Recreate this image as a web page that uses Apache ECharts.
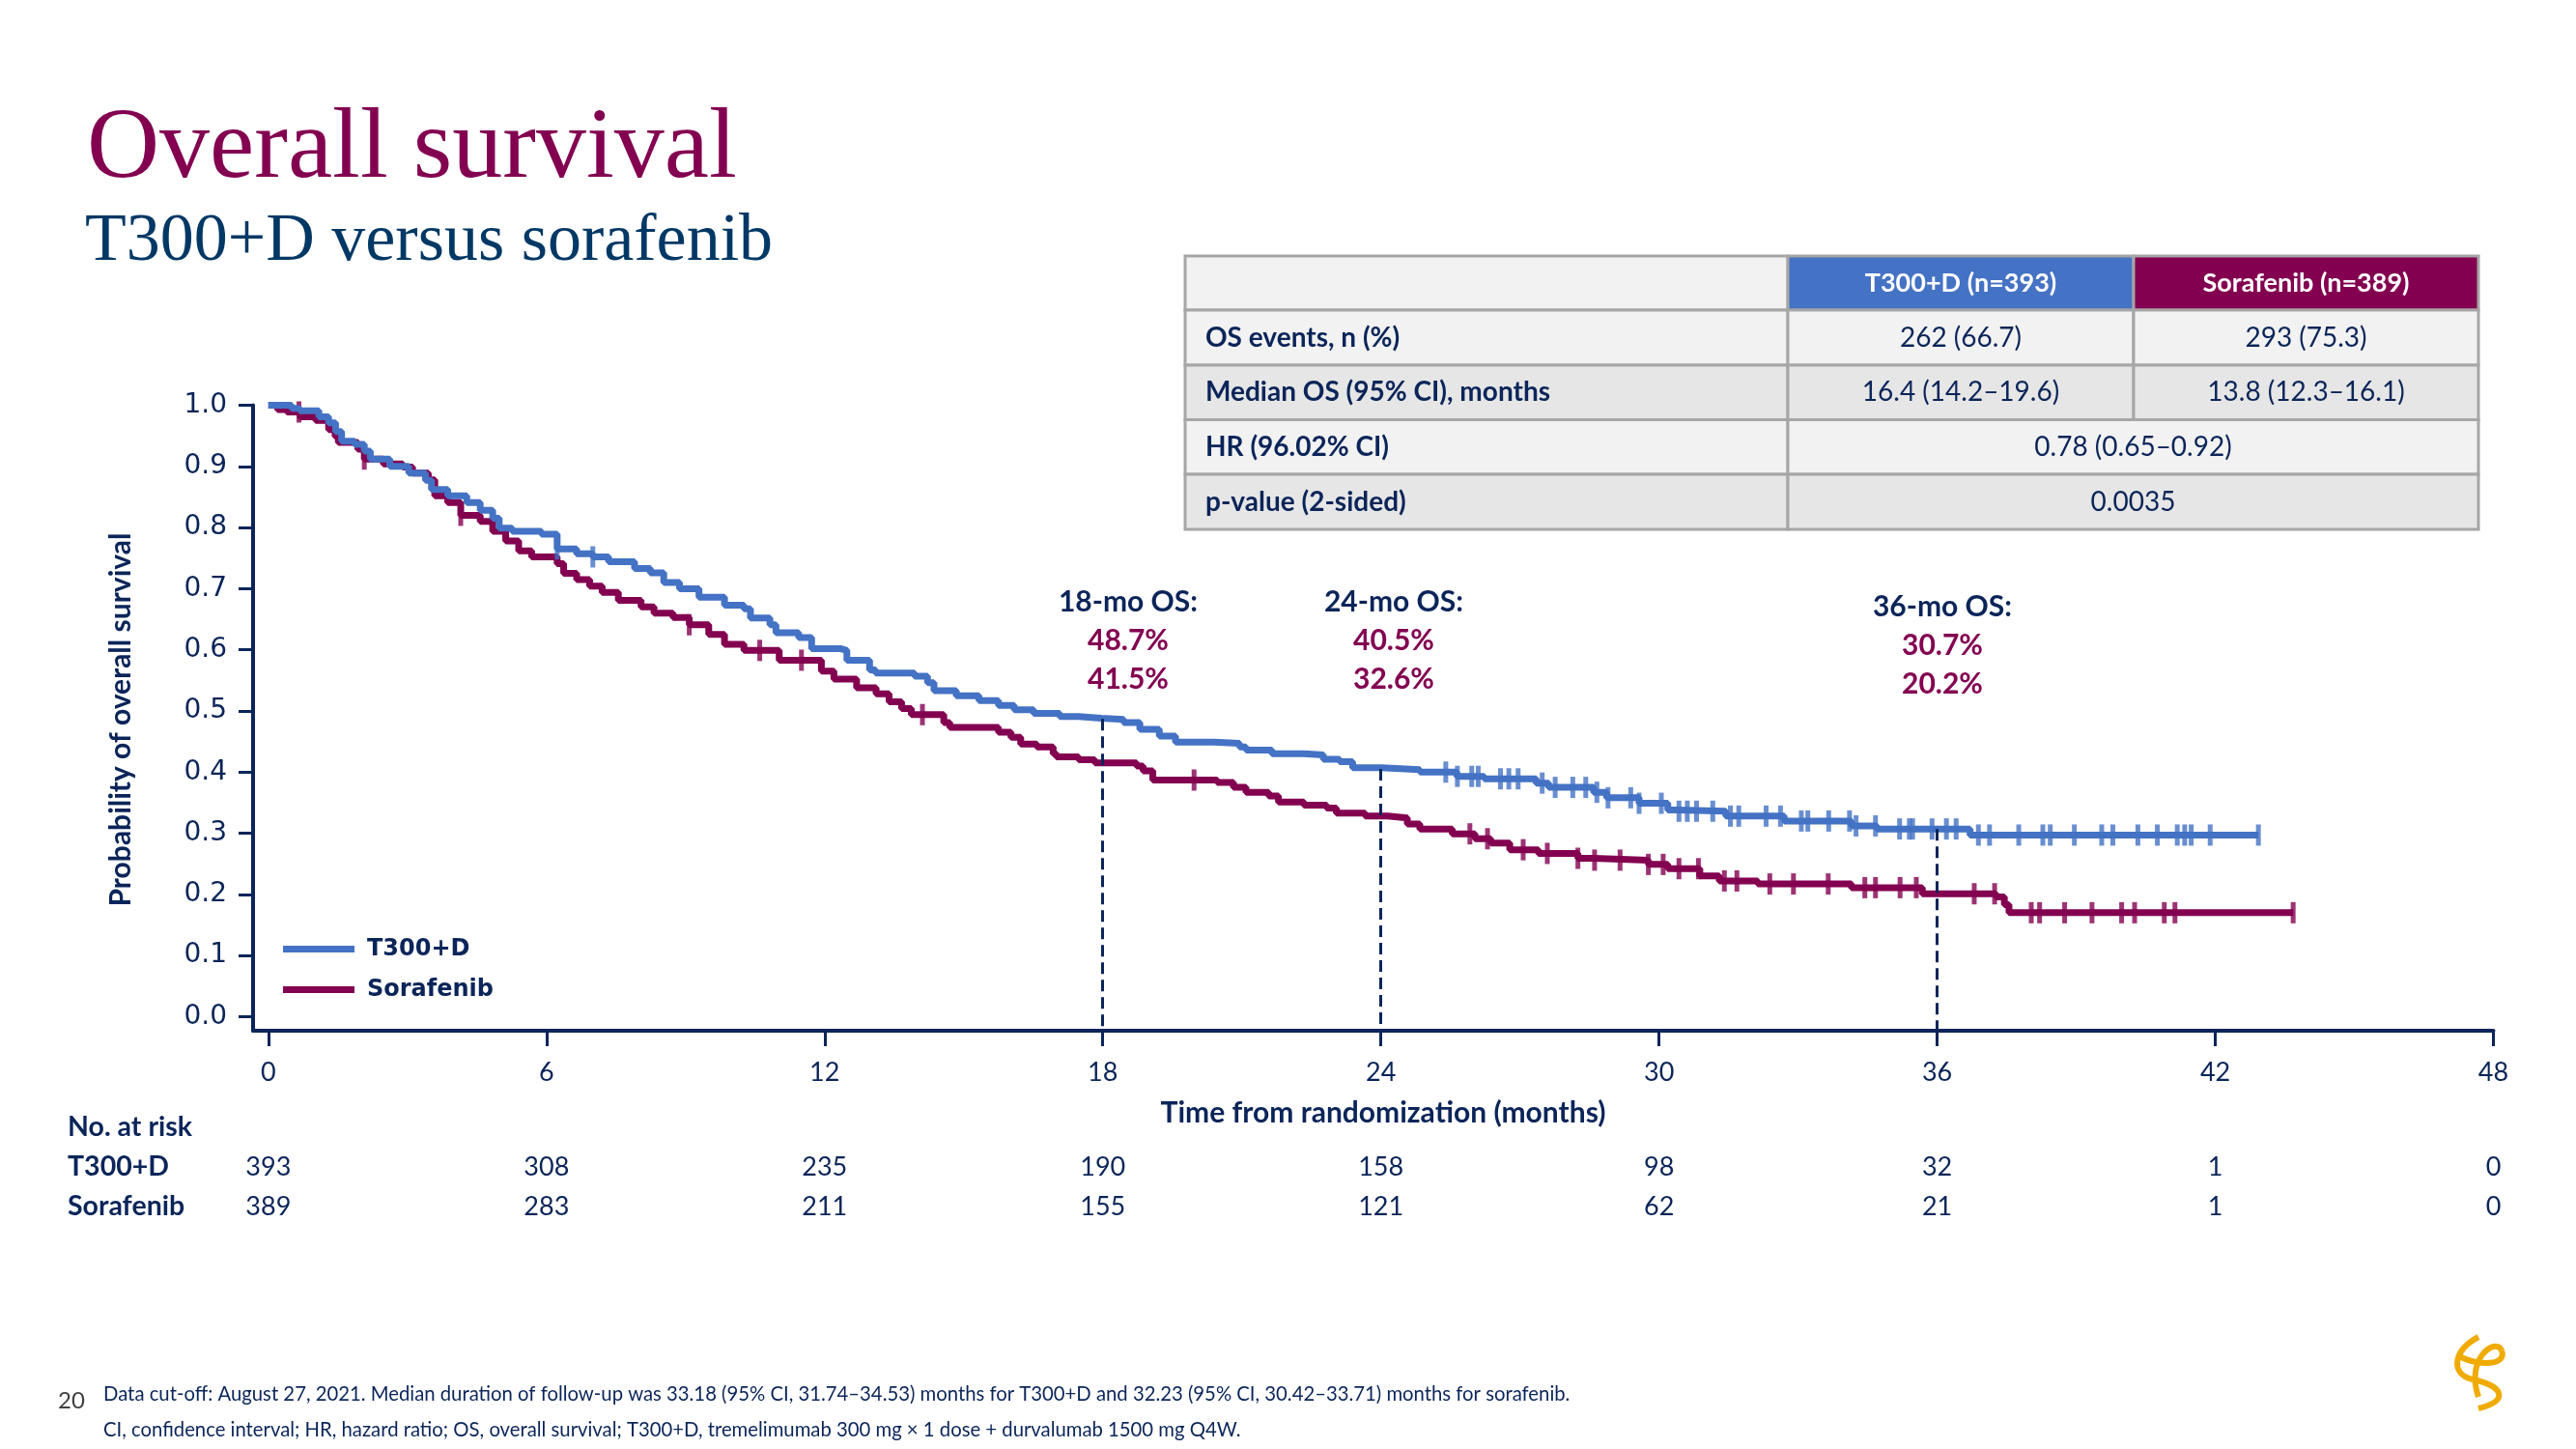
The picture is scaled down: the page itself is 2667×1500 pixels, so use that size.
<!DOCTYPE html>
<html><head><meta charset="utf-8">
<script src="https://cdn.jsdelivr.net/npm/echarts@6/dist/echarts.min.js"></script>
<style>html,body{margin:0;padding:0;background:#fff;}#c{width:2667px;height:1500px;}</style>
</head><body><div id="c"></div>
<script>
// ---------- data ----------
const t300dSteps = [
 [0,1.0],[0.5,0.995],[0.68,0.991],[1.09,0.981],[1.3,0.971],[1.45,0.957],[1.58,0.941],[1.86,0.936],
 [2.07,0.925],[2.2,0.912],[2.62,0.9],[3.03,0.889],[3.39,0.877],[3.52,0.862],[3.87,0.852],[4.28,0.841],
 [4.57,0.828],[4.84,0.815],[4.98,0.799],[5.26,0.794],[5.89,0.789],[6.23,0.765],[6.65,0.757],[7.0,0.752],
 [7.34,0.744],[7.9,0.733],[8.24,0.726],[8.53,0.71],[8.87,0.7],[9.29,0.686],[9.84,0.673],[10.26,0.667],
 [10.4,0.652],[10.82,0.641],[10.95,0.628],[11.44,0.62],[11.72,0.602],[12.34,0.599],[12.48,0.583],
 [12.97,0.567],[13.1,0.562],[13.94,0.557],[14.22,0.546],[14.36,0.533],[14.84,0.525],[15.33,0.517],
 [15.75,0.509],[16.09,0.502],[16.51,0.496],[17.07,0.491],[17.48,0.488],[17.97,0.486],[18.45,0.481],
 [18.8,0.47],[19.22,0.459],[19.57,0.449],[20.4,0.447],[20.95,0.441],[21.09,0.436],[21.65,0.43],
 [22.34,0.428],[22.76,0.421],[23.11,0.417],[23.39,0.407],[24.01,0.404],[24.84,0.4],[25.64,0.393],
 [26.23,0.389],[27.35,0.382],[27.62,0.375],[28.59,0.367],[28.87,0.358],[29.57,0.349],[30.19,0.338],
 [30.4,0.336],[31.44,0.328],[32.7,0.32],[34.15,0.312],[34.7,0.307],[36.71,0.297],[42.93,0.297]
];
const sorafSteps = [
 [0,1.0],[0.2,0.993],[0.4,0.989],[0.68,0.981],[1.02,0.975],[1.3,0.96],[1.44,0.949],[1.51,0.939],
 [1.93,0.928],[2.07,0.912],[2.48,0.904],[2.9,0.899],[3.11,0.889],[3.45,0.878],[3.59,0.852],[3.87,0.841],
 [4.15,0.82],[4.57,0.81],[4.84,0.794],[5.12,0.778],[5.4,0.762],[5.68,0.752],[6.23,0.741],[6.37,0.725],
 [6.65,0.715],[6.93,0.704],[7.2,0.694],[7.55,0.681],[8.04,0.67],[8.32,0.66],[8.73,0.653],[9.08,0.641],
 [9.5,0.625],[9.84,0.609],[10.26,0.599],[11.02,0.583],[11.93,0.565],[12.2,0.552],[12.69,0.538],
 [13.11,0.528],[13.39,0.515],[13.66,0.504],[13.87,0.494],[14.57,0.481],[14.7,0.473],[15.75,0.465],
 [16.02,0.457],[16.23,0.446],[16.58,0.441],[16.93,0.43],[17.0,0.425],[17.48,0.42],[17.83,0.415],
 [18.73,0.41],[18.87,0.402],[19.08,0.387],[20.47,0.383],[20.82,0.375],[21.09,0.367],[21.58,0.361],
 [21.79,0.351],[22.34,0.346],[22.83,0.341],[23.04,0.333],[23.66,0.328],[24.15,0.325],[24.57,0.315],
 [24.84,0.307],[25.54,0.299],[26.03,0.291],[26.37,0.284],[26.78,0.273],[27.4,0.267],[28.25,0.259],
 [28.59,0.256],[29.77,0.249],[30.19,0.242],[30.88,0.23],[31.3,0.222],[32.13,0.217],[34.15,0.211],
 [35.68,0.201],[37.27,0.196],[37.45,0.183],[37.55,0.17],[43.68,0.17]
];
const t300dCensor = [6.23,7.0,25.4,25.65,25.96,26.1,26.58,26.76,26.96,27.48,27.76,28.14,28.42,28.66,28.9,
 29.39,29.57,30.05,30.43,30.61,30.81,31.16,31.54,31.72,32.31,32.62,33.07,33.21,33.66,34.11,34.25,34.67,
 35.19,35.4,35.47,35.89,36.2,36.41,36.89,37.13,37.76,38.28,38.44,38.96,39.55,39.79,40.33,40.75,41.18,
 41.34,41.48,41.89,42.93];
const sorafCensor = [0.66,2.07,4.15,9.08,10.6,11.5,14.11,19.97,25.92,26.3,27.07,27.59,28.25,28.61,29.16,
 29.77,30.09,30.43,30.85,31.41,31.68,32.39,32.9,33.65,34.44,34.67,35.2,35.55,36.8,37.24,38.03,38.21,
 38.75,39.34,39.98,40.26,40.9,41.13,43.68];
const xTicks = [0,6,12,18,24,30,36,42,48];
const yTicks = [0,0.1,0.2,0.3,0.4,0.5,0.6,0.7,0.8,0.9,1.0];
const riskT300D = [393,308,235,190,158,98,32,1,0];
const riskSoraf = [389,283,211,155,121,62,21,1,0];
const landmarkMonths = [18,24,36];
const landmarkT300D = [48.7,40.5,30.7];
const landmarkSoraf = [41.5,32.6,20.2];
const tableHeader = ['', 'T300+D (n=393)', 'Sorafenib (n=389)'];
const tableRows = [
 ['OS events, n (%)','262 (66.7)','293 (75.3)'],
 ['Median OS (95% CI), months','16.4 (14.2\u201319.6)','13.8 (12.3\u201316.1)'],
 ['HR (96.02% CI)','0.78 (0.65\u20130.92)'],
 ['p-value (2-sided)','0.0035']
];

// ---------- style ----------
const NAVY = '#0B2559';
const BLUE = '#4472C4';
const MUL = '#830051';
const XMIN = -0.33, YMIN = -0.023;
const SANS = 'Lato';

function survAt(steps, t){ let v = steps[0][1]; for (const p of steps){ if (p[0] <= t + 1e-9) v = p[1]; else break; } return v; }

const chart = echarts.init(document.getElementById('c'), null, {renderer:'canvas'});

function txt(x,y,text,font,fill,align,valign,rot){
  const e = {type:'text', x:x, y:y, silent:true, style:{text:text, font:font, fill:fill,
    align:align||'left', textAlign:align||'left', verticalAlign:valign||'middle', textVerticalAlign:valign||'middle'}};
  if (rot) e.rotation = rot;
  return e;
}

const graphics = [];
// titles
graphics.push(txt(90,156,'Overall survival','104px "Liberation Serif"',MUL));
graphics.push(txt(88,251,'T300+D versus sorafenib','70px "Liberation Serif"','#003865'));

// table
const colX = [1227,1851,2209,2566];
const rowY = [265,321,378,434.5,491,548];
const rowFill = ['#F2F2F2','#E6E6E6','#F2F2F2','#E6E6E6'];
const BORDER = '#A6A6A6';
function cell(x0,x1,y0,y1,fill){ return {type:'rect', silent:true, shape:{x:x0,y:y0,width:x1-x0,height:y1-y0}, style:{fill:fill, stroke:BORDER, lineWidth:3}}; }
graphics.push(cell(colX[0],colX[1],rowY[0],rowY[1],'#F2F2F2'));
graphics.push(cell(colX[1],colX[2],rowY[0],rowY[1],BLUE));
graphics.push(cell(colX[2],colX[3],rowY[0],rowY[1],MUL));
graphics.push(txt((colX[1]+colX[2])/2,(rowY[0]+rowY[1])/2,tableHeader[1],'bold 27px '+SANS,'#fff','center'));
graphics.push(txt((colX[2]+colX[3])/2,(rowY[0]+rowY[1])/2,tableHeader[2],'bold 27px '+SANS,'#fff','center'));
tableRows.forEach((r,i)=>{
  const y0 = rowY[i+1], y1 = rowY[i+2], cy = (y0+y1)/2;
  graphics.push(cell(colX[0],colX[1],y0,y1,rowFill[i]));
  if (r.length === 3){
    graphics.push(cell(colX[1],colX[2],y0,y1,rowFill[i]));
    graphics.push(cell(colX[2],colX[3],y0,y1,rowFill[i]));
    graphics.push(txt((colX[1]+colX[2])/2,cy,r[1],'28px '+SANS,NAVY,'center'));
    graphics.push(txt((colX[2]+colX[3])/2,cy,r[2],'28px '+SANS,NAVY,'center'));
  } else {
    graphics.push(cell(colX[1],colX[3],y0,y1,rowFill[i]));
    graphics.push(txt((colX[1]+colX[3])/2,cy,r[1],'28px '+SANS,NAVY,'center'));
  }
  graphics.push(txt(colX[0]+21,cy,r[0],'bold 28px '+SANS,NAVY,'left'));
});

// landmark annotations
const annX = [1168,1443,2011];
const annY = [623,623,628];
landmarkMonths.forEach((m,i)=>{
  graphics.push(txt(annX[i],annY[i],m+'-mo OS:','bold 30px '+SANS,NAVY,'center'));
  graphics.push(txt(annX[i],annY[i]+40,landmarkT300D[i].toFixed(1)+'%','bold 30px '+SANS,MUL,'center'));
  graphics.push(txt(annX[i],annY[i]+80,landmarkSoraf[i].toFixed(1)+'%','bold 30px '+SANS,MUL,'center'));
});

// axis titles
graphics.push(txt(125,745,'Probability of overall survival','bold 30px '+SANS,NAVY,'center','middle',Math.PI/2));
graphics.push(txt(1432,1152,'Time from randomization (months)','bold 30px '+SANS,NAVY,'center'));
// risk table labels
graphics.push(txt(70,1167,'No. at risk','bold 28.5px '+SANS,NAVY,'left'));
graphics.push(txt(70,1208,'T300+D','bold 28.5px '+SANS,NAVY,'left'));
graphics.push(txt(70,1249,'Sorafenib','bold 28.5px '+SANS,NAVY,'left'));
// footer
graphics.push(txt(60,1450,'20','24px '+SANS,'#404040','left'));
graphics.push(txt(107,1443,'Data cut-off: August 27, 2021. Median duration of follow-up was 33.18 (95% CI, 31.74\u201334.53) months for T300+D and 32.23 (95% CI, 30.42\u201333.71) months for sorafenib.','20.3px '+SANS,NAVY,'left'));
graphics.push(txt(107,1480,'CI, confidence interval; HR, hazard ratio; OS, overall survival; T300+D, tremelimumab 300 mg \u00d7 1 dose + durvalumab 1500 mg Q4W.','20.3px '+SANS,NAVY,'left'));
// logo (approximate)
const GOLD = '#F0AB00';
function bez(x1,y1,c1x,c1y,c2x,c2y,x2,y2){ return {type:'bezierCurve', silent:true, shape:{x1:x1,y1:y1,cpx1:c1x,cpy1:c1y,cpx2:c2x,cpy2:c2y,x2:x2,y2:y2}, style:{fill:null, stroke:GOLD, lineWidth:6}}; }
graphics.push(bez(2566,1384, 2540,1398, 2536,1422, 2560,1428));
graphics.push(bez(2560,1428, 2590,1434, 2600,1450, 2566,1458));
graphics.push(bez(2546,1404, 2566,1414, 2596,1414, 2590,1398));
graphics.push(bez(2590,1398, 2584,1384, 2552,1406, 2566,1446));

const axisText = {fontFamily:SANS, fontSize:27, color:NAVY};

const option = {
  animation:false,
  backgroundColor:'#ffffff',
  grid:{left:262, right:85.5, top:419.5, bottom:433, containLabel:false},
  legend:{
    data:['T300+D','Sorafenib'], orient:'vertical', left:288, top:964, icon:'rect',
    itemWidth:74, itemHeight:7, itemGap:15, selectedMode:false,
    textStyle:{fontFamily:'DejaVu Sans', fontWeight:'bold', fontSize:24, color:NAVY, lineHeight:27, padding:[0,0,0,8]}
  },
  xAxis:[
    {type:'value', min:XMIN, max:48,
     axisLine:{show:true, onZero:false, lineStyle:{color:NAVY, width:4}},
     axisTick:{show:true, customValues:xTicks, length:16, lineStyle:{color:NAVY, width:3}},
     axisLabel:{customValues:xTicks, margin:30, ...axisText},
     splitLine:{show:false}},
    {type:'value', min:XMIN, max:48, position:'bottom', offset:141,
     axisLine:{show:false, onZero:false}, axisTick:{show:false}, splitLine:{show:false},
     axisLabel:{customValues:xTicks, margin:0, verticalAlign:'middle', ...axisText,
       formatter:(v)=>{const i = xTicks.indexOf(v); return i<0?'':String(riskT300D[i]);}}},
    {type:'value', min:XMIN, max:48, position:'bottom', offset:182,
     axisLine:{show:false, onZero:false}, axisTick:{show:false}, splitLine:{show:false},
     axisLabel:{customValues:xTicks, margin:0, verticalAlign:'middle', ...axisText,
       formatter:(v)=>{const i = xTicks.indexOf(v); return i<0?'':String(riskSoraf[i]);}}}
  ],
  yAxis:{type:'value', min:YMIN, max:1,
    axisLine:{show:true, onZero:false, lineStyle:{color:NAVY, width:4}},
    axisTick:{show:true, customValues:yTicks, length:15, lineStyle:{color:NAVY, width:3}},
    axisLabel:{customValues:yTicks, margin:27, fontFamily:'DejaVu Sans', fontSize:28, color:NAVY,
      formatter:(v)=>v.toFixed(1)},
    splitLine:{show:false}},
  series:[
    {name:'Sorafenib', type:'line', step:'end', data:sorafSteps, symbol:'none', color:MUL,
     lineStyle:{color:MUL, width:7}, z:3},
    {name:'Sorafenib censored', type:'scatter', data:sorafCensor.map(t=>[t, survAt(sorafSteps,t)]),
     symbol:'rect', symbolSize:[5,22], itemStyle:{color:MUL}, z:3},
    {name:'T300+D', type:'line', step:'end', data:t300dSteps, symbol:'none', color:BLUE,
     lineStyle:{color:BLUE, width:7}, z:4,
     markLine:{silent:true, symbol:'none', label:{show:false}, z:5,
       lineStyle:{type:[12,6], width:3, color:NAVY},
       data:landmarkMonths.map((m,i)=>[{coord:[m, landmarkT300D[i]/100]},{coord:[m, YMIN]}])}},
    {name:'T300+D censored', type:'scatter', data:t300dCensor.map(t=>[t, survAt(t300dSteps,t)]),
     symbol:'rect', symbolSize:[5,22], itemStyle:{color:BLUE}, z:4}
  ],
  graphic:graphics
};
chart.setOption(option);
</script></body></html>
